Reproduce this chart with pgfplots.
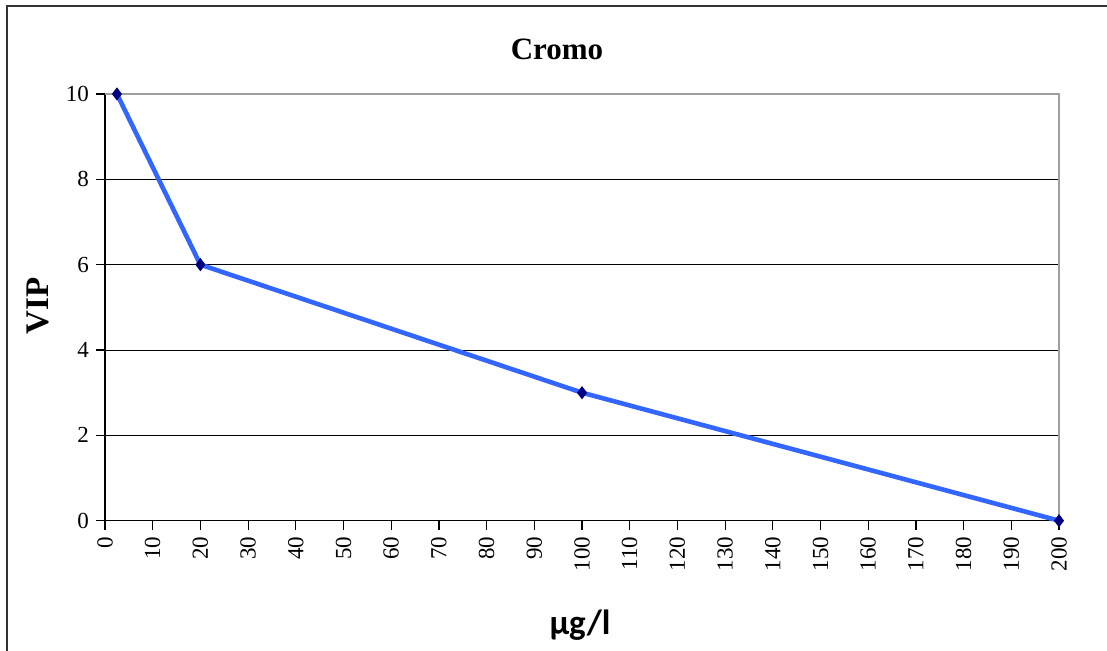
\documentclass[border=0pt]{standalone}
\usepackage{fontspec}
\setmainfont{Liberation Serif}
\newfontfamily\carlito{Carlito}
\usepackage{pgfplots}
\pgfplotsset{compat=1.18}
\definecolor{linea}{RGB}{51,102,255}
\definecolor{marca}{RGB}{0,0,128}
\begin{document}
\begin{tikzpicture}
\useasboundingbox (0,0) rectangle (553.5pt,325.5pt);
\draw[line width=1.1pt, black!80] (3.5pt,-1pt) -- (3.5pt,322.5pt) -- (555pt,322.5pt);
\begin{axis}[
  at={(52.5pt,65.15pt)}, anchor=south west,
  scale only axis, width=477pt, height=213.35pt,
  xmin=0, xmax=200, ymin=0, ymax=10,
  xtick={0,10,...,200}, ytick={0,2,...,10},
  axis lines=left, axis line style={-, black, line width=0.6pt},
  tick align=outside, major tick length=4.5pt,
  tick style={black, line width=0.6pt},
  ymajorgrids, major grid style={black, line width=0.5pt},
  /pgf/number format/assume math mode=true,
  tick label style={font=\fontsize{11.5}{12}\selectfont},
  xticklabel style={rotate=90, anchor=east},
  clip=false,
]
\draw[gray!75, line width=0.8pt] (axis cs:0,10) -- (axis cs:200,10) -- (axis cs:200,0);
\addplot[linea, line width=2.3pt, mark=diamond*, mark size=3pt,
  mark options={fill=marca, draw=marca, line width=0.4pt}]
  coordinates {(2.5,10) (20,6) (100,3) (200,0)};
\end{axis}
\node at (278.5pt,301pt) {\fontsize{15.5}{18}\selectfont\bfseries Cromo};
\node[rotate=90] at (19pt,172.5pt) {\fontsize{16.5}{18}\selectfont\bfseries VIP};
\node at (290pt,13pt) {\carlito\bfseries\fontsize{17.5}{20}\selectfont μg/l};
\end{tikzpicture}
\end{document}
